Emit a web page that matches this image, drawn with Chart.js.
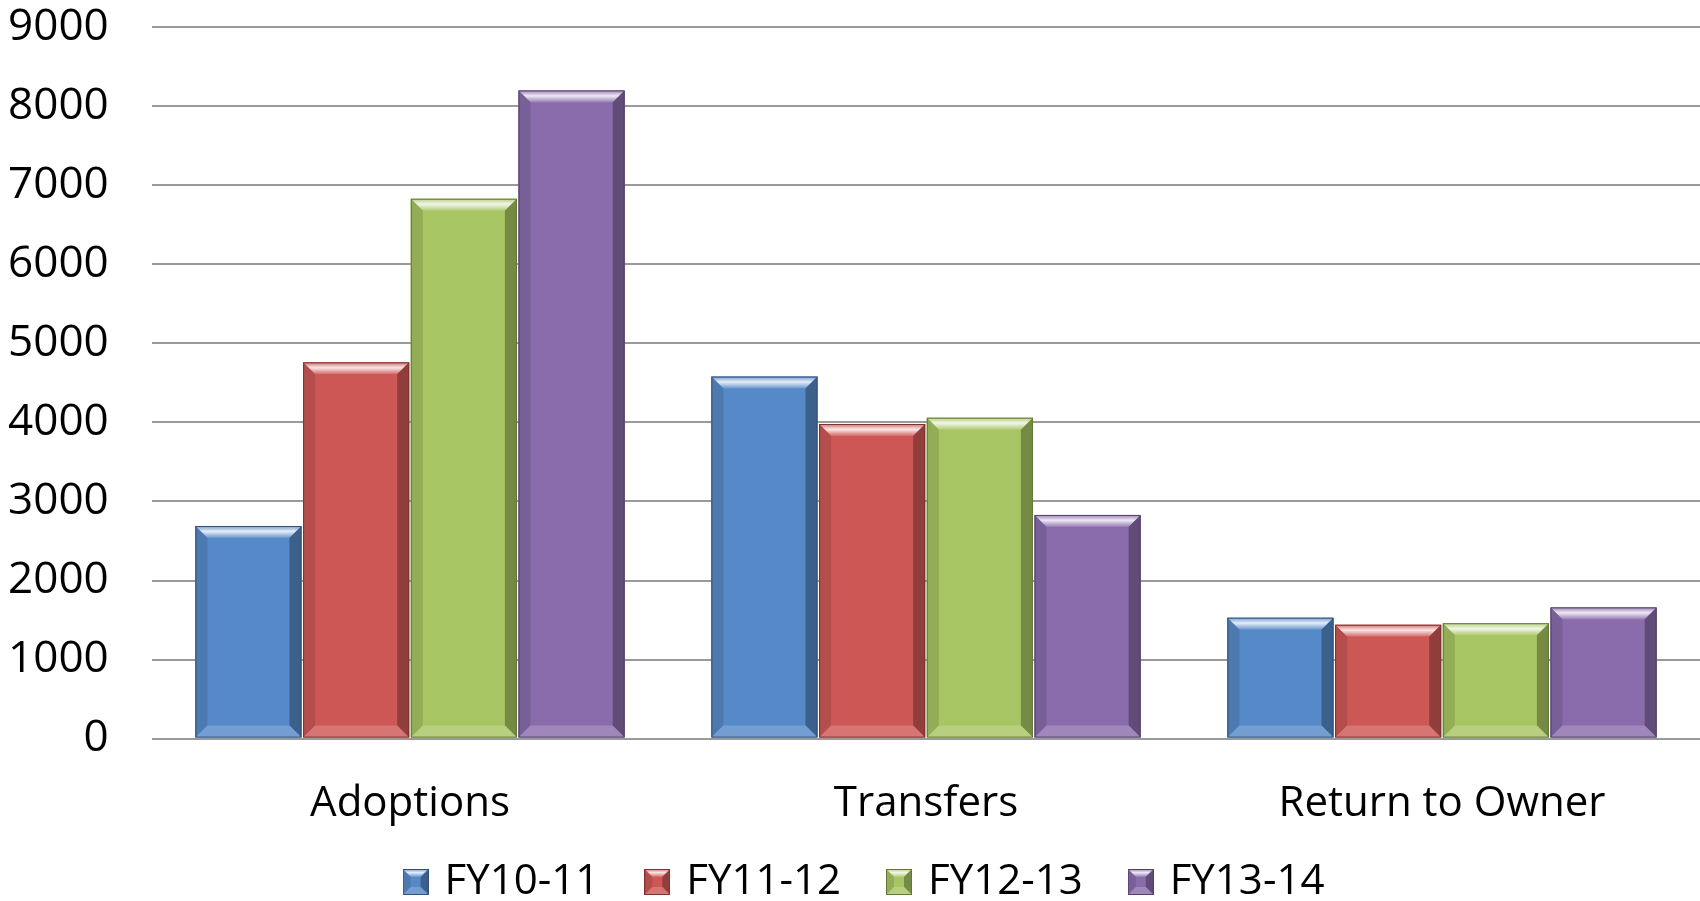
<!DOCTYPE html>
<html>
<head>
<meta charset="utf-8">
<script src="https://cdn.jsdelivr.net/npm/chart.js@4.4.1/dist/chart.umd.min.js"></script>
<style>
  html, body { margin: 0; padding: 0; background: #fff; }
  #wrap { width: 1700px; height: 901px; }
</style>
</head>
<body>
<div id="wrap"><canvas id="myChart" width="1700" height="901"></canvas></div>
<script>
// data
const categories = ['Adoptions', 'Transfers', 'Return to Owner'];
const seriesNames = ['FY10-11', 'FY11-12', 'FY12-13', 'FY13-14'];
const fy1011 = [2690, 4580, 1530];
const fy1112 = [4760, 3980, 1440];
const fy1213 = [6830, 4060, 1460];
const fy1314 = [8200, 2830, 1660];
const yTicks = [0, 1000, 2000, 3000, 4000, 5000, 6000, 7000, 8000, 9000];

const colors = ['#5689c8', '#cd5755', '#a7c563', '#8a6cac'];

// small helper to lighten / darken a hex colour
function shade(hex, amt) {
  let r = parseInt(hex.slice(1, 3), 16), g = parseInt(hex.slice(3, 5), 16), b = parseInt(hex.slice(5, 7), 16);
  if (amt > 0) { r += (255 - r) * amt; g += (255 - g) * amt; b += (255 - b) * amt; }
  else { r *= 1 + amt; g *= 1 + amt; b *= 1 + amt; }
  return 'rgb(' + Math.round(r) + ',' + Math.round(g) + ',' + Math.round(b) + ')';
}

function poly(ctx, pts, fill) {
  ctx.beginPath();
  ctx.moveTo(pts[0][0], pts[0][1]);
  for (let i = 1; i < pts.length; i++) ctx.lineTo(pts[i][0], pts[i][1]);
  ctx.closePath();
  ctx.fillStyle = fill;
  ctx.fill();
}

// the bevelled edges of a box
function drawBevel(ctx, l, t, r, btm, c, b) {
  ctx.save();
  const g = ctx.createLinearGradient(0, t, 0, t + b);
  g.addColorStop(0, shade(c, 0.15));
  g.addColorStop(0.45, shade(c, 0.85));
  g.addColorStop(1, shade(c, 0.1));
  poly(ctx, [[l, t], [r, t], [r - b, t + b], [l + b, t + b]], g);
  poly(ctx, [[r, t], [r, btm], [r - b, btm - b], [r - b, t + b]], shade(c, -0.3));
  poly(ctx, [[l, t], [l + b, t + b], [l + b, btm - b], [l, btm]], shade(c, -0.12));
  poly(ctx, [[l, btm], [l + b, btm - b], [r - b, btm - b], [r, btm]], shade(c, 0.18));
  ctx.strokeStyle = shade(c, -0.4);
  ctx.lineWidth = 1;
  ctx.strokeRect(l + 0.5, t + 0.5, r - l - 1, btm - t - 1);
  ctx.restore();
}

// legend swatches with the same look
const swatches = colors.map(c => {
  const cv = document.createElement('canvas');
  cv.width = 26; cv.height = 26;
  const x = cv.getContext('2d');
  x.fillStyle = c;
  x.fillRect(0, 0, 26, 26);
  drawBevel(x, 0, 0, 26, 26, c, 8);
  return cv;
});

const bevelPlugin = {
  id: 'bevel',
  afterDatasetsDraw(chart) {
    chart.data.datasets.forEach((ds, i) => {
      chart.getDatasetMeta(i).data.forEach(bar => {
        drawBevel(chart.ctx, bar.x - bar.width / 2, bar.y, bar.x + bar.width / 2, bar.base, colors[i], 12);
      });
    });
  }
};

// nudge the legend row a little to the right
const legendShift = {
  id: 'legendShift',
  afterLayout(chart) {
    if (chart.legend) { chart.legend.left += 13; chart.legend.right += 13; }
  }
};

const seriesData = [fy1011, fy1112, fy1213, fy1314];
const ctx = document.getElementById('myChart').getContext('2d');

const myChart = new Chart(ctx, {
  type: 'bar',
  data: {
    labels: categories,
    datasets: seriesNames.map((name, i) => ({
      label: name,
      data: seriesData[i],
      backgroundColor: colors[i],
      borderWidth: 0,
      barPercentage: 0.985,
      categoryPercentage: 0.835
    }))
  },
  options: {
    responsive: false,
    animation: false,
    layout: { padding: { left: 6, right: 0, top: 0, bottom: -12 } },
    plugins: {
      tooltip: { enabled: false },
      legend: {
        position: 'bottom',
        labels: {
          color: '#000',
          boxWidth: 16,
          boxHeight: 24,
          padding: 22,
          usePointStyle: true,
          font: { family: "'Open Sans', sans-serif", size: 42 },
          generateLabels: chart => {
            const items = Chart.defaults.plugins.legend.labels.generateLabels(chart);
            items.forEach((it, i) => {
              it.pointStyle = swatches[i];
              // extra room after the text, except for the last entry
              if (i < items.length - 1) it.text = it.text + '\u2002\u2009';
            });
            return items;
          }
        }
      }
    },
    scales: {
      x: {
        grid: { display: false },
        border: { display: false },
        afterFit: axis => { axis.height = axis.height - 22; },
        ticks: {
          color: '#000',
          padding: 32,
          font: { family: "'Open Sans', sans-serif", size: 42 }
        }
      },
      y: {
        min: 0,
        max: 9000,
        afterBuildTicks: axis => { axis.ticks = yTicks.map(v => ({ value: v })); },
        afterFit: axis => { axis.width = 146; },
        grid: { color: '#9a9a9a', lineWidth: 2, drawTicks: false },
        border: { display: false },
        ticks: {
          color: '#000',
          padding: 14,
          font: { family: "'Open Sans', sans-serif", size: 44, lineHeight: 0.6 },
          // trailing space keeps the numbers clear of the grid start
          callback: v => String(v) + '\u2002\u2009'
        }
      }
    }
  },
  plugins: [bevelPlugin, legendShift]
});
</script>
</body>
</html>
